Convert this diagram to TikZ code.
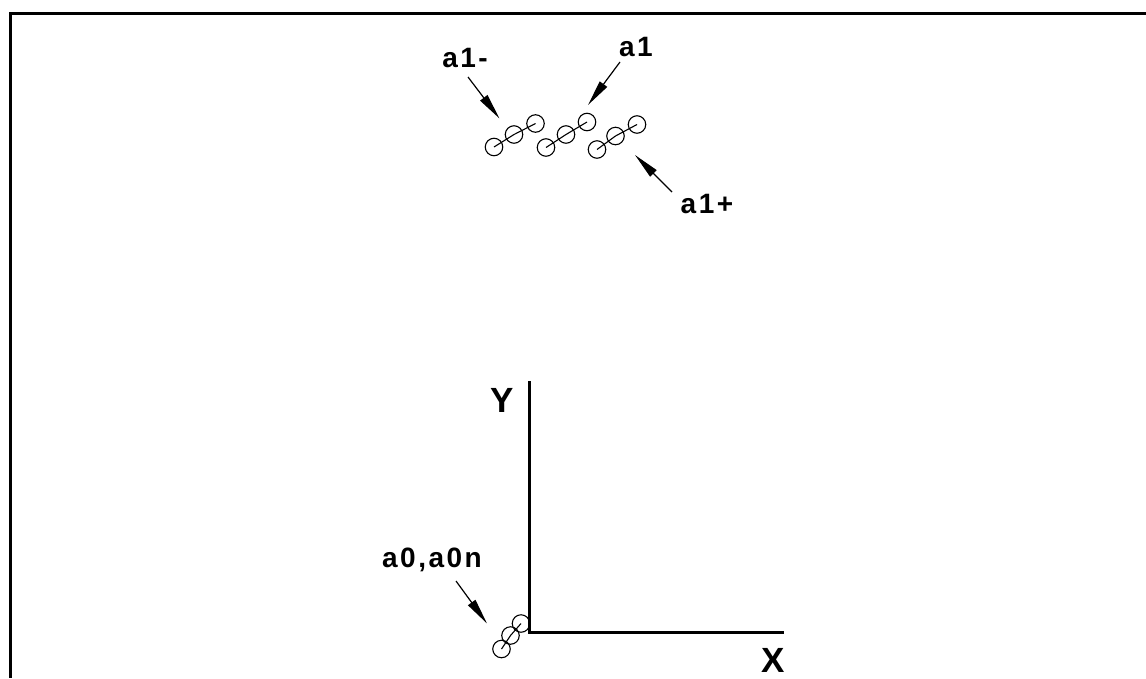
\documentclass[tikz,border=0pt]{standalone}
\usepackage{fontspec}
\setmainfont{Liberation Sans}
\usetikzlibrary{arrows.meta}
\tikzset{
  atom/.style={circle,draw,line width=1.1pt,minimum size=17.5pt,inner sep=0pt},
  bond/.style={line width=1.1pt},
  lbl/.style={font=\fontsize{28}{32}\selectfont\bfseries\addfontfeature{LetterSpace=9},inner sep=0pt},
  axlbl/.style={font=\fontsize{35}{40}\selectfont\bfseries,inner sep=0pt},
  ptr/.style={line width=1.2pt,-{Triangle[length=26pt,width=9pt]}},
  axis/.style={line width=2.8pt},
}
\begin{document}
\begin{tikzpicture}[x=1pt,y=-1pt]
\useasboundingbox (0,0) rectangle (1146,678);
% frame (top and left)
\draw[line width=3pt] (1146,13.5) -- (10,13.5) -- (10,678);
% top atoms
\node[atom] (g1a) at (494,147) {};
\node[atom] (g1b) at (514,134.5) {};
\node[atom] (g1c) at (535.5,123.5) {};
\node[atom] (g2a) at (546,147.5) {};
\node[atom] (g2b) at (566,134.5) {};
\node[atom] (g2c) at (587,122) {};
\node[atom] (g3a) at (597,149.5) {};
\node[atom] (g3b) at (615.5,136) {};
\node[atom] (g3c) at (637,124.5) {};
\draw[bond] (g1a.center) -- (g1b.center) -- (g1c.center);
\draw[bond] (g2a.center) -- (g2b.center) -- (g2c.center);
\draw[bond] (g3a.center) -- (g3b.center) -- (g3c.center);
% labels
\node[lbl] (Lm) at (465,58) {a1-};
\node[lbl] (L1) at (636,47) {a1};
\node[lbl] (Lp) at (707,204) {a1+};
\node[lbl] (L0) at (432,560) {a0,a0n};
% arrows
\coordinate (tm) at (468,77);
\coordinate (hm) at (499.5,118.5);
\coordinate (t1) at (620,62);
\coordinate (h1) at (588,105);
\coordinate (tp) at (672,192);
\coordinate (hp) at (635,155);
\coordinate (t0) at (456,581);
\coordinate (h0) at (487,623.5);
\draw[ptr] (tm) -- (hm);
\draw[ptr] (t1) -- (h1);
\draw[ptr] (tp) -- (hp);
\draw[ptr] (t0) -- (h0);
% axes
\coordinate (O) at (529.5,632.5);
\coordinate (Ytop) at (529.5,381);
\coordinate (Xend) at (784,632.5);
\draw[axis] (Ytop) -- (O) -- (Xend);
\node[axlbl] (Y) at (502,400) {Y};
\node[axlbl] (X) at (773,660) {X};
% bottom atoms
\node[atom] (b1) at (501.5,649) {};
\node[atom] (b2) at (510.5,635.5) {};
\node[atom] (b3) at (521,623.5) {};
\draw[bond] (b1.center) -- (b2.center) -- (b3.center);
\end{tikzpicture}
\end{document}
